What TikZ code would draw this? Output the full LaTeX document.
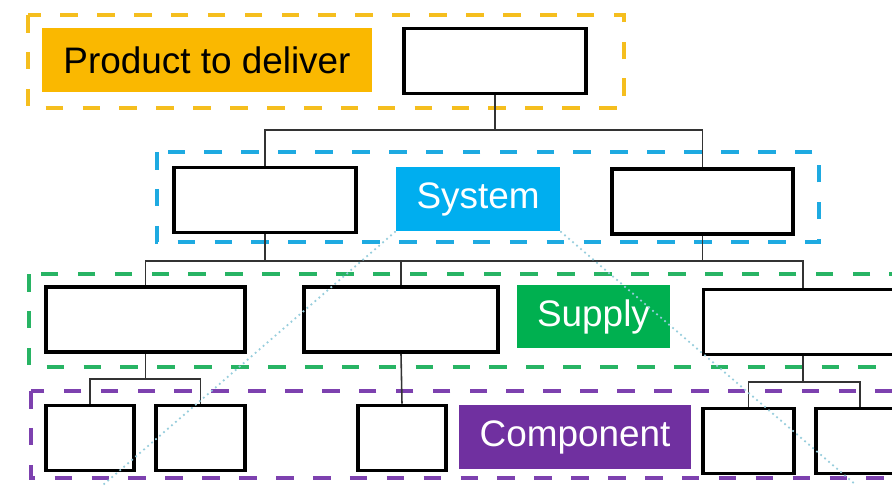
\documentclass[tikz,border=0pt]{standalone}
\usepackage{fontspec}
\setmainfont{Liberation Sans}
\usepackage{xcolor}
\definecolor{prodorange}{RGB}{250,184,0}
\definecolor{sysblue}{RGB}{0,174,239}
\definecolor{supgreen}{RGB}{0,176,80}
\definecolor{comppurple}{RGB}{112,48,160}
\definecolor{prodframe}{RGB}{245,190,30}
\definecolor{sysframe}{RGB}{30,170,225}
\definecolor{supframe}{RGB}{40,180,100}
\definecolor{compframe}{RGB}{125,65,175}
\definecolor{hintcol}{RGB}{150,205,220}

\begin{document}
\begin{tikzpicture}[x=0.02cm, y=-0.02cm,
box/.style={rectangle, draw=black, line width=2.2pt, fill=white, inner sep=0pt, minimum height=1.3cm},
tag/.style={rectangle, inner sep=0pt, minimum height=1.28cm, font=\fontsize{21}{25}\selectfont, text=white},
frame/.style={line width=2.2pt, dash pattern=on 10pt off 11pt},
link/.style={draw=black!80, line width=0.9pt},
hint/.style={hintcol, dotted, line width=1pt},
]
\useasboundingbox (0,0) rectangle (892,485);
\clip (0,0) rectangle (892,485);

%Frames
\draw[frame, prodframe] (28,15) rectangle (624,108);
\draw[frame, sysframe] (157,152) rectangle (819,242);
\draw[frame, supframe] (29,274) rectangle (910,367);
\draw[frame, compframe] (31,391) rectangle (910,478);

%Nodes
\node[tag, fill=prodorange, text=black, minimum width=6.6cm] (prodtag) at (207,60) {Product to deliver};
\node[box, minimum width=3.64cm] (top) at (495,61) {};
\node[box, minimum width=3.64cm] (sysA) at (265,200) {};
\node[tag, fill=sysblue, minimum width=3.28cm] (systag) at (478,199) {System};
\node[box, minimum width=3.62cm] (sysB) at (702.5,201.5) {};
\node[box, minimum width=3.98cm] (supA) at (145.5,319.5) {};
\node[box, minimum width=3.88cm] (supB) at (401,319.5) {};
\node[tag, fill=supgreen, minimum width=3.06cm, minimum height=1.26cm] (suptag) at (593.5,316.5) {Supply};
\node[box, minimum width=3.98cm] (supC) at (803,322) {};
\node[box, minimum width=1.76cm] (compA) at (90,438) {};
\node[box, minimum width=1.78cm] (compB) at (200.5,438) {};
\node[box, minimum width=1.76cm] (compC) at (402,438) {};
\node[tag, fill=comppurple, minimum width=4.64cm] (comptag) at (575,437) {Component};
\node[box, minimum width=1.82cm] (compD) at (748.5,441) {};
\node[box, minimum width=1.76cm] (compE) at (860,441) {};
\coordinate (busA) at (495,130);
\coordinate (busB) at (265,261);
\coordinate (busC) at (145.5,379);
\coordinate (busD) at (803,382);
\coordinate (hintL) at (103,485);
\coordinate (hintR) at (856,485);

%Lines
\draw[link] (top.south) -- (busA);
\draw[link] (sysA.north) |- (busA) -| (sysB.north);
\draw[link] (sysA.south) -- (busB);
\draw[link] (sysB.south) -- (sysB.south |- busB);
\draw[link] (supA.north) |- (busB) -| (supC.north);
\draw[link] (supB.north) -- (supB.north |- busB);
\draw[link] (supA.south) -- (busC);
\draw[link] (compA.north) |- (busC) -| (compB.north);
\draw[link] (supB.south) -- (compC.north);
\draw[link] (supC.south) -- (busD);
\draw[link] (compD.north) |- (busD) -| (compE.north);
\draw[hint] (systag.south west) -- (hintL);
\draw[hint] (systag.south east) -- (hintR);

\end{tikzpicture}
\end{document}
